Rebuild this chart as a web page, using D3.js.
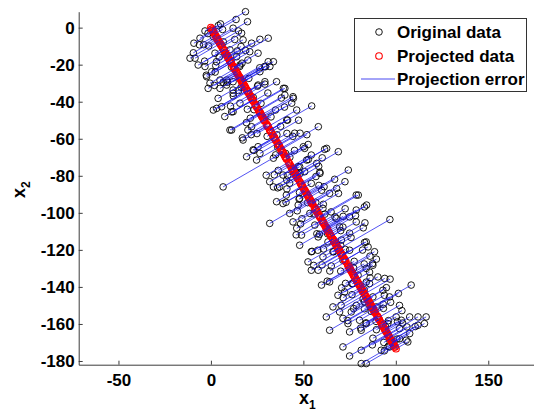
<!DOCTYPE html>
<html><head><meta charset="utf-8">
<script src="https://cdn.jsdelivr.net/npm/d3@7/dist/d3.min.js"></script>
<style>
body{margin:0;background:#fff}
svg{display:block}
text{font-family:"Liberation Sans",Arial,Helvetica,sans-serif;font-weight:bold;fill:#000}
</style>
</head><body>
<svg id="chart" width="534" height="412"></svg>
<script>
// Original data, first coordinate (x1)
const originalX1 = [
18.7,19.8,5.2,12,16.6,-3.2,-9.2,-5.9,1.3,17.4,22,26.5,31,-11.3,-8.6,-6.9,-3.2,5.8,10.3,21,25.5,31,29,31.9,26.5,0.4,-2.3,4.9,-0.5,35.5,40,29.2,25.5,20,13.9,15.7,3,8.5,12,
-1.5,4.9,3.9,1.3,5.8,10.3,17.4,19.3,6.6,12,20,22.8,24.7,7.5,12,15.7,12,8.5,
33.8,39.2,44.6,43.7,54.5,58.1,48.2,62.6,68.9,57.2,74.3,72.5,79.7,84.2,68,59,46.4,50,41,51.8,48.2,41,33.8,
3.1,11.2,66.9,31.8,39,44.4,40,45.3,50.7,54.3,22,25.5,47.2,50.7,61.5,
31.8,37.2,35.5,39,42.6,44.4,49,48,54.3,52.5,54.3,58,78.6,83,78.6,78.6,84,85,88.5,75,71.4,87.6,84,64.2,60.6,65,67.8,48,47.2,53.5,56.2,58,63.3,66,60.6,70.6,75,69.6,75,40.8,42.6,
59.8,64.2,68.7,72.3,71.4,74.1,64.2,75,80.4,81.3,71.4,81.3,75,81.3,84,92.1,96.7,102,106.5,107.5,112,115.5,116.4,112,107.5,103,100.2,108.3,102,96.6,93,94,90.3,95.7,102,86.7,84,89.4,78.6,83,87.6,85.8,76.8,79.6,85.8,66,62.4,69.6,75.9,
96.8,82.4,83.3,86,
6.3,-1.2,12.9,4.5,18.7,2.3,15.6,8.9,26.4,16.3,25.2,10.6,30.8,19.7,38.1,19.2,32.5,17,41.5,30.4,41.1,26.5,51.9,33.8,42.7,29.9,52.7,41.5,58.3,41.1,54.3,40.6,59.9,52.3,69,49.2,61.6,46.1,71.5,58.7,70.2,54.7,75.8,66.4,83.1,65.1,77.5,62.9,87.4,72.8,86.1,71.5,96.9,82.3,93.8,74,93.3,83.9,103.3,89.5,103.7,87.3,100.6,93.8,
-1.6,-3.9,6.7,-3.4,14.2,11.1,1.9,20.5,12.1,22.9,23.3,34.9,24.9,35.7,36.1,45.2,34.3,46.9,56.8,47.7,56.7,48.5,67.1,63.1,60.9,72.6,64.3,82.9,76.4,82.9,77.2,93.2,89.3,100.9,93.5,
4,-6.2,14.9,2.2,16.3,-2.5,16.8,6.7,29.5,15,29.2,11.2,27.1,21.3,39.8,21.8,37.7,23.2,44.3,35,52.6,36.4,48,36.1,58.9,47.9,61.2,46.7,60.8,46.4,72.6,57.3,71.4,57.8,70.2,60.1,82,70.2,89.5,70.7,84,70.4,94.9,83,97.2,81,96,87.6,106,95.9,105.6,
13.6,-9.5,2.6,27.5,47.4,40.4,60.2,58.4,55.8,78.2,55.6,77.2,76.3,101.4,94.4,110.5
];
// Original data, second coordinate (x2)
const originalX2 = [
8.6,3.2,2.0,-0.3,-3,-1.8,-8.4,-5.7,-4.9,-6.6,-8.4,-6.3,-5.7,-16.5,-16.5,-20.2,-21,-9.4,-12,-13,-13.8,-18.4,-21,-21,-23.8,-23.8,-26.5,-28.3,-30,-29.2,-32.8,-29.2,-31,-17.5,-15.7,-20.2,-18.4,-31,-33.7,
-32.8,-32.8,-38.2,-44.5,-42.7,-55.3,-60.7,-69.7,-86,-45.4,-55.3,-66,-71.5,-48,-35.5,-40.8,-29.2,-28.3,
-18.4,-32.8,-38.2,-40.8,-42.3,-53.5,-57,-65.2,-67,-73.3,-76.9,-83.2,-90.4,-95.8,-86.8,-78.7,-44.5,-64.3,-49.9,-71.5,-78.7,-82.3,-86,
-43.6,-55.3,-81.9,-83.2,-79.6,-37.3,-36.4,-57,-65.2,-68.8,-53.5,-64.3,-75.1,-77.8,-65.7,
-105.7,-86,-94,-95,-100.3,-104.9,-112,-117.5,-121,-126.5,-131,-131,-90.4,-96.8,-98.5,-104.9,-115.7,-118.4,-121,-120.2,-125.6,-128.3,-130,-89.5,-97.6,-99.5,-103,-92.2,-95.8,-100.3,-106.6,-113,-115.7,-121,-123.8,-114.7,-111,-107.6,-102.2,-90.4,-84,
-139,-137.3,-144.5,-142.7,-157,-159.8,-163.4,-164.3,-158,-163.4,-172.4,-174.2,-177.3,-181.4,-181.4,-174.2,-172.4,-168,-169.7,-165.2,-160.7,-159.8,-156.2,-156.2,-156.2,-158,-156.2,-139,-150,-145.4,-141.8,-135.4,-134.6,-159.8,-162.5,-153.2,-159.8,-150.8,-150,-148,-145.4,-138.2,-138.2,-133.7,-132,-150.8,-156.2,-153.5,-153.5,
-103.6,-108.1,-105.4,-123.4,
-1,-9.9,-6.4,-15.9,-12.3,-24,-21,-29.5,-21.7,-32.2,-31.6,-42.4,-35.3,-44.1,-38,-51.3,-48.2,-59.5,-49.9,-58.7,-57.1,-67.9,-57.8,-70.5,-70,-79.7,-71.2,-79.9,-74.9,-87.1,-84.1,-94.3,-87.8,-94.5,-89.5,-103.2,-100.7,-111.9,-101.9,-111.6,-109.6,-120.8,-113.3,-121,-116,-128.7,-126.2,-136.9,-127.4,-138.1,-135.1,-145.8,-135.8,-146.5,-144.5,-158.2,-151.6,-159.4,-152.8,-163.1,-159.5,-171.3,-168.2,-174.5,
-3.2,-9.2,-7.7,-18.1,-12.6,-21.3,-31.2,-27.4,-36.9,-37.6,-44.3,-44.5,-57.2,-57.9,-64.6,-66.3,-79.5,-79.2,-80.4,-92.6,-94.3,-106,-102.2,-111.3,-119.5,-119.7,-131.4,-127.6,-138.3,-141.5,-151.7,-149.4,-158.6,-158.8,-170,
1.1,-9.3,-1.8,-13.8,-10.2,-25.7,-19.2,-29.6,-21.1,-34,-30.5,-45.5,-40.9,-48.9,-42.9,-57.8,-53.3,-66.3,-58.7,-68.7,-63.1,-77.1,-75.1,-86.5,-78,-89,-85.9,-98.9,-95.4,-108.3,-97.8,-111.3,-107.7,-120.2,-117.6,-128.1,-120.1,-131.5,-125,-140.5,-137.4,-149.9,-140.4,-151.8,-148.3,-162.2,-158.2,-167.7,-161.6,-172.1,-168.8,
4.4,-13.6,-20.5,-47.6,-50,-67.9,-70.3,-85.2,-100.6,-101.5,-128.4,-129.8,-144.2,-143.5,-161.4,-161.4
];
// Principal direction onto which the data are projected
const projectionDirection = [0.5, -0.866];
const xTickValues = [-50, 0, 50, 100, 150];
const yTickValues = [0, -20, -40, -60, -80, -100, -120, -140, -160, -180];
const legendLabels = ["Original data", "Projected data", "Projection error"];

const svg = d3.select("#chart");
const x = d3.scaleLinear().domain([-71.5, 175]).range([78.7, 534.5]);
const y = d3.scaleLinear().domain([-182, 8.6]).range([364.7, 11.7]);

const n = Math.min(originalX1.length, originalX2.length);
const uu = projectionDirection[0]*projectionDirection[0] + projectionDirection[1]*projectionDirection[1];
const points = d3.range(n).map(i => {
  const a = originalX1[i], b = originalX2[i];
  const t = (a*projectionDirection[0] + b*projectionDirection[1]) / uu;
  return {x1: a, x2: b, p1: t*projectionDirection[0], p2: t*projectionDirection[1]};
});

// Axes
const axisColor = "#3c3c3c";
const fmt = d => String(d).replace("−", "-");
const gx = svg.append("g").attr("transform", `translate(0,${y(-182)})`)
  .call(d3.axisBottom(x).tickValues(xTickValues).tickSize(-4).tickSizeOuter(0).tickPadding(9).tickFormat(fmt));
const gy = svg.append("g").attr("transform", `translate(${x(-71.5)},0)`)
  .call(d3.axisLeft(y).tickValues(yTickValues).tickSize(-4).tickSizeOuter(0).tickPadding(4).tickFormat(fmt));
[gx, gy].forEach(g => {
  g.select(".domain").attr("stroke", axisColor).attr("stroke-width", 1);
  g.selectAll(".tick line").attr("stroke", axisColor);
  g.selectAll(".tick text").attr("font-size", 17).attr("font-family", '"Liberation Sans",Arial,sans-serif').attr("font-weight", "bold").attr("fill", "#000");
});

// Marks
const plot = svg.append("g");
plot.selectAll("circle.orig").data(points).join("circle").attr("class", "orig")
  .attr("cx", d => x(d.x1)).attr("cy", d => y(d.x2)).attr("r", 3.3)
  .attr("fill", "none").attr("stroke", "#000").attr("stroke-width", 0.9);
plot.selectAll("circle.proj").data(points).join("circle").attr("class", "proj")
  .attr("cx", d => x(d.p1)).attr("cy", d => y(d.p2)).attr("r", 3.3)
  .attr("fill", "none").attr("stroke", "#ff0000").attr("stroke-width", 1.1);
plot.selectAll("line.err").data(points).join("line").attr("class", "err")
  .attr("x1", d => x(d.x1)).attr("y1", d => y(d.x2))
  .attr("x2", d => x(d.p1)).attr("y2", d => y(d.p2))
  .attr("stroke", "#1a1aee").attr("stroke-width", 0.75);

// Axis labels
const xl = svg.append("text").attr("x", 299).attr("y", 404).attr("font-size", 18);
xl.append("tspan").text("x");
xl.append("tspan").attr("font-size", 12).attr("dy", 5).text("1");
const yl = svg.append("text").attr("transform", "translate(25,198) rotate(-90)").attr("font-size", 18);
yl.append("tspan").text("x");
yl.append("tspan").attr("font-size", 12).attr("dy", 5).text("2");

// Legend
const lg = svg.append("g");
lg.append("rect").attr("x", 354.5).attr("y", 18.5).attr("width", 172).attr("height", 73)
  .attr("fill", "#fff").attr("stroke", "#333").attr("stroke-width", 1);
const rowY = [32, 56, 79];
lg.append("circle").attr("cx", 379).attr("cy", rowY[0]).attr("r", 3.3).attr("fill", "none").attr("stroke", "#000").attr("stroke-width", 0.9);
lg.append("circle").attr("cx", 379).attr("cy", rowY[1]).attr("r", 3.3).attr("fill", "none").attr("stroke", "#ff0000").attr("stroke-width", 1.1);
lg.append("line").attr("x1", 361).attr("x2", 395).attr("y1", rowY[2]).attr("y2", rowY[2]).attr("stroke", "#1a1aee").attr("stroke-width", 0.8);
lg.selectAll("text.lab").data(legendLabels).join("text").attr("class", "lab")
  .attr("x", 397).attr("y", (d, i) => rowY[i]).attr("dy", "0.36em").attr("font-size", 17).text(d => d);
</script>
</body></html>
